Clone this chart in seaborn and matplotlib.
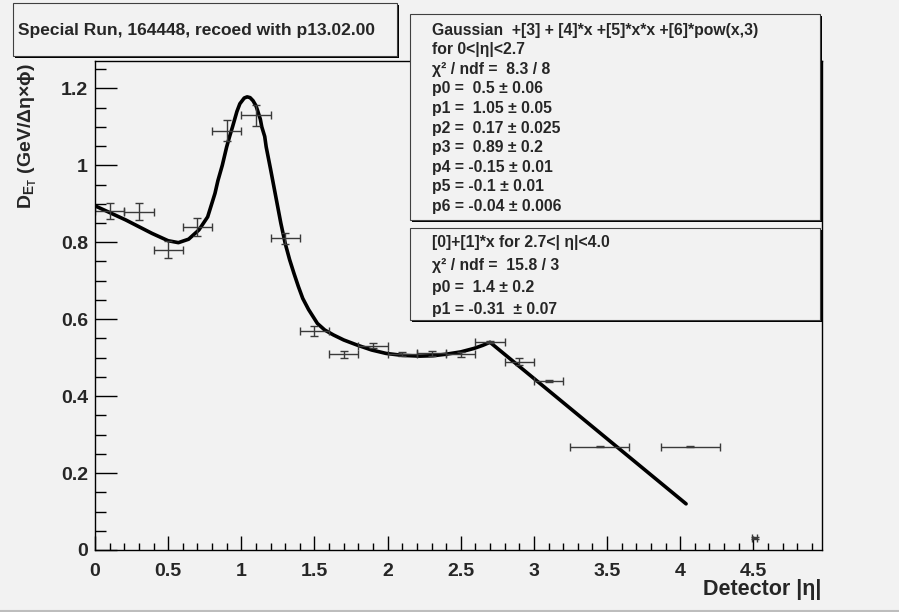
"""
Detector |eta| response with piecewise fit, ROOT-style layout.
"""

import matplotlib
matplotlib.use("Agg")
import matplotlib.pyplot as plt
from matplotlib.patches import Rectangle
from matplotlib.ticker import MultipleLocator
import numpy as np
import pandas as pd
import seaborn as sns

eta = [0.1, 0.3, 0.5, 0.7, 0.9, 1.1, 1.3, 1.5, 1.7, 1.9,
       2.1, 2.3, 2.5, 2.7, 2.9, 3.1, 3.45, 4.07, 4.51]
d_et = [0.882, 0.879, 0.780, 0.840, 1.090, 1.130, 0.810, 0.569, 0.509, 0.531,
        0.509, 0.511, 0.509, 0.541, 0.490, 0.439, 0.269, 0.269, 0.031]
eta_err = [0.1, 0.1, 0.1, 0.1, 0.1, 0.1, 0.1, 0.1, 0.1, 0.1,
           0.1, 0.1, 0.1, 0.1, 0.1, 0.1, 0.2, 0.2, 0.017]
d_et_err = [0.021, 0.022, 0.022, 0.024, 0.028, 0.027, 0.014, 0.013, 0.009, 0.007,
            0.005, 0.006, 0.006, 0.003, 0.010, 0.003, 0.002, 0.002, 0.002]

# Fit curve
fit_eta = [0.01, 0.21, 0.39, 0.50, 0.57, 0.64, 0.71, 0.77, 0.82, 0.84, 0.87, 0.90,
           0.92, 0.94, 0.97, 0.99, 1.02, 1.04, 1.06, 1.08, 1.10, 1.11, 1.13, 1.14,
           1.16, 1.17, 1.20, 1.22, 1.24, 1.27, 1.30, 1.33, 1.36, 1.39, 1.42, 1.46,
           1.52, 1.57, 1.63, 1.70, 1.79, 1.89, 1.99, 2.10, 2.22, 2.31, 2.40, 2.50,
           2.59, 2.65, 2.70, 4.04]
fit_d = [0.893, 0.858, 0.823, 0.804, 0.799, 0.808, 0.832, 0.866, 0.927, 0.960, 1.000, 1.048,
         1.075, 1.100, 1.140, 1.160, 1.175, 1.178, 1.176, 1.168, 1.155, 1.144, 1.120, 1.100,
         1.075, 1.048, 0.990, 0.950, 0.910, 0.850, 0.797, 0.755, 0.719, 0.685, 0.654, 0.625,
         0.589, 0.572, 0.559, 0.546, 0.533, 0.520, 0.511, 0.506, 0.504, 0.505, 0.509, 0.515,
         0.524, 0.532, 0.540, 0.120]

title_text = "Special Run, 164448, recoed with p13.02.00"
fit1_lines = [
    "Gaussian  +[3] + [4]*x +[5]*x*x +[6]*pow(x,3)",
    "for 0<|η|<2.7",
    "χ² / ndf =  8.3 / 8",
    "p0 =  0.5 ± 0.06",
    "p1 =  1.05 ± 0.05",
    "p2 =  0.17 ± 0.025",
    "p3 =  0.89 ± 0.2",
    "p4 = -0.15 ± 0.01",
    "p5 = -0.1 ± 0.01",
    "p6 = -0.04 ± 0.006",
]
fit2_lines = [
    "[0]+[1]*x for 2.7<| η|<4.0",
    "χ² / ndf =  15.8 / 3",
    "p0 =  1.4 ± 0.2",
    "p1 = -0.31  ± 0.07",
]

BG = "#f2f2f2"
W, H = 899, 612

sns.set_theme(style="ticks")
plt.rcParams["font.family"] = ["Liberation Sans", "DejaVu Sans"]
plt.rcParams["font.weight"] = "bold"
plt.rcParams["mathtext.fontset"] = "custom"
plt.rcParams["mathtext.rm"] = "Liberation Sans"
plt.rcParams["mathtext.bf"] = "Liberation Sans:bold"

fig = plt.figure(figsize=(W / 100, H / 100), dpi=100, facecolor=BG)


def fx(px):
    return px / W


def fy(py):
    return 1 - py / H


ax = fig.add_axes([fx(95), fy(550), fx(821.7) - fx(95), fy(60.7) - fy(550)])
ax.set_facecolor(BG)

fit_df = pd.DataFrame({"eta": fit_eta, "d": fit_d})
sns.lineplot(data=fit_df, x="eta", y="d", ax=ax, color="black", linewidth=2.6,
             sort=False, estimator=None)
ax.errorbar(eta, d_et, xerr=eta_err, yerr=d_et_err, fmt="none",
            ecolor="#3a3a3a", elinewidth=1.0, capsize=3, capthick=1.0)

ax.set_xlim(0, 4.967)
ax.set_ylim(0, 1.272)
ax.xaxis.set_major_locator(MultipleLocator(0.5))
ax.xaxis.set_minor_locator(MultipleLocator(0.1))
ax.yaxis.set_major_locator(MultipleLocator(0.2))
ax.yaxis.set_minor_locator(MultipleLocator(0.05))
ax.set_xticks([0, 0.5, 1, 1.5, 2, 2.5, 3, 3.5, 4, 4.5])
ax.set_xticklabels(["0", "0.5", "1", "1.5", "2", "2.5", "3", "3.5", "4", "4.5"])
ax.set_yticks([0, 0.2, 0.4, 0.6, 0.8, 1.0, 1.2])
ax.set_yticklabels(["0", "0.2", "0.4", "0.6", "0.8", "1", "1.2"])
ax.tick_params(axis="x", which="major", direction="in", length=10, width=1,
               labelsize=14, pad=9, color="black")
ax.tick_params(axis="x", which="minor", direction="in", length=5, width=1, color="black")
ax.tick_params(axis="y", which="major", direction="in", length=15.5, width=1,
               labelsize=14, pad=5, color="black")
ax.tick_params(axis="y", which="minor", direction="in", length=8, width=1, color="black")
for lab in ax.get_xticklabels() + ax.get_yticklabels():
    lab.set_fontweight("bold")
for side in ["left", "bottom", "right", "top"]:
    ax.spines[side].set_visible(True)
    ax.spines[side].set_color("black")
    ax.spines[side].set_linewidth(1.0)
ax.set_xlabel("")
ax.set_ylabel("")

# axis titles
fig.text(fx(821), fy(590), "Detector |η|", ha="right", va="center",
         fontsize=15.5, fontweight="bold")
fig.text(fx(28), fy(136), r"$\mathbf{D}_{\mathbf{E}_{\mathbf{T}}}$ (GeV/Δη×ϕ)",
         rotation=90, ha="center", va="center", fontsize=14, fontweight="bold")


def pave(x0, y0, x1, y1):
    # ROOT-like box with a dark shadow on right/bottom
    fig.patches.append(Rectangle((fx(x0 + 2), fy(y1 + 2)), fx(x1 - x0), fy(y0) - fy(y1),
                                 transform=fig.transFigure, facecolor="black",
                                 edgecolor="none", zorder=5))
    fig.patches.append(Rectangle((fx(x0), fy(y1)), fx(x1 - x0), fy(y0) - fy(y1),
                                 transform=fig.transFigure, facecolor=BG,
                                 edgecolor="#404040", linewidth=0.8, zorder=6))


pave(13, 3, 397, 56)
fig.text(fx(18), fy(30), title_text, ha="left", va="center", fontsize=12.5,
         fontweight="bold", zorder=7)

pave(410, 14, 819.5, 220)
for i, line in enumerate(fit1_lines):
    fig.text(fx(432), fy(30 + i * 19.6), line, ha="left", va="center",
             fontsize=11.3, fontweight="bold", zorder=7)

pave(410, 228, 819.5, 320)
for i, line in enumerate(fit2_lines):
    fig.text(fx(432), fy(243 + i * 22.2), line, ha="left", va="center",
             fontsize=11.3, fontweight="bold", zorder=7)

# canvas border line at the bottom
fig.add_artist(plt.Line2D([0, 1], [fy(610.5), fy(610.5)], transform=fig.transFigure,
                          color="#bdbdbd", linewidth=1.5))

fig.savefig("out.png", dpi=100, facecolor=BG)
